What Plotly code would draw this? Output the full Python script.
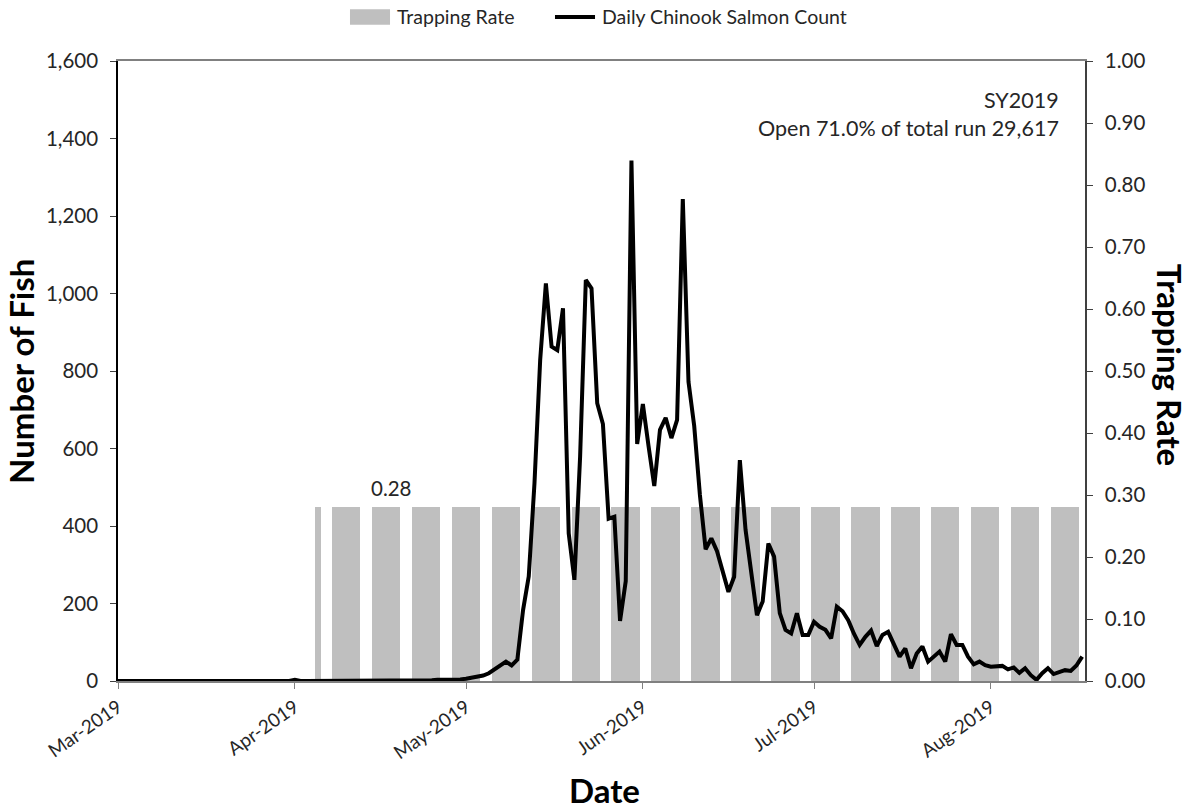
import pandas as pd
import plotly.graph_objects as go

# Daily Chinook salmon counts, SY2019 (one value per day starting 1 March 2019)
count_mar = [0, 0, 0, 0, 0, 0, 0, 0, 0, 0, 0, 0, 0, 0, 0, 0, 0, 0, 0, 0,
             0, 0, 0, 0, 0, 0, 0, 0, 0, 0, 0]
count_apr = [3, 0, 0, 0, 0, 0, 0, 0, 0, 0, 0, 0, 0, 0, 0, 0, 0, 0, 0, 0,
             0, 2, 2, 1, 2, 3, 3, 3, 4, 4]
count_may = [6, 9, 11, 14, 20, 30, 41, 50, 40, 55, 183, 270, 510, 828, 1026,
             863, 854, 962, 381, 261, 579, 1035, 1013, 717, 663, 419, 424,
             155, 258, 1343, 612]
count_jun = [715, 606, 503, 648, 679, 627, 674, 1244, 772, 658, 480, 340, 368,
             335, 286, 230, 269, 570, 390, 278, 170, 205, 355, 321, 175, 132,
             123, 175, 119, 119]
count_jul = [153, 140, 132, 110, 192, 180, 157, 122, 93, 114, 130, 90, 119,
             127, 97, 63, 84, 33, 71, 89, 50, 63, 76, 50, 121, 93, 93, 63,
             43, 50, 41]
count_aug = [37, 37, 39, 30, 35, 21, 33, 15, 3, 20, 33, 18, 24, 28, 26, 40, 63]

# Daily trapping rate (0.28 on trapping days, 0 when the trap is closed)
rate_mar = [0, 0, 0, 0, 0, 0, 0, 0, 0, 0, 0, 0, 0, 0, 0, 0, 0, 0, 0, 0,
            0, 0, 0, 0, 0, 0, 0, 0, 0, 0, 0]
rate_apr = [0, 0, 0, 0, 0.28, 0, 0,
            0.28, 0.28, 0.28, 0.28, 0.28, 0, 0,
            0.28, 0.28, 0.28, 0.28, 0.28, 0, 0,
            0.28, 0.28, 0.28, 0.28, 0.28, 0, 0,
            0.28, 0.28]
rate_may = [0.28, 0.28, 0.28, 0, 0,
            0.28, 0.28, 0.28, 0.28, 0.28, 0, 0,
            0.28, 0.28, 0.28, 0.28, 0.28, 0, 0,
            0.28, 0.28, 0.28, 0.28, 0.28, 0, 0,
            0.28, 0.28, 0.28, 0.28, 0.28]
rate_jun = [0, 0,
            0.28, 0.28, 0.28, 0.28, 0.28, 0, 0,
            0.28, 0.28, 0.28, 0.28, 0.28, 0, 0,
            0.28, 0.28, 0.28, 0.28, 0.28, 0, 0,
            0.28, 0.28, 0.28, 0.28, 0.28, 0, 0]
rate_jul = [0.28, 0.28, 0.28, 0.28, 0.28, 0, 0,
            0.28, 0.28, 0.28, 0.28, 0.28, 0, 0,
            0.28, 0.28, 0.28, 0.28, 0.28, 0, 0,
            0.28, 0.28, 0.28, 0.28, 0.28, 0, 0,
            0.28, 0.28, 0.28]
rate_aug = [0.28, 0.28, 0, 0,
            0.28, 0.28, 0.28, 0.28, 0.28, 0, 0,
            0.28, 0.28, 0.28, 0.28, 0.28, 0]

daily_count = count_mar + count_apr + count_may + count_jun + count_jul + count_aug
trap_rate = rate_mar + rate_apr + rate_may + rate_jun + rate_jul + rate_aug
dates = pd.date_range("2019-03-01", periods=len(daily_count), freq="D")

FONT = "Lato"
TXT = "#262626"
BAR_GREY = "#bfbfbf"
DAY_MS = 86400000

fig = go.Figure()

fig.add_trace(go.Bar(
    x=dates, y=trap_rate, width=DAY_MS, name="Trapping Rate",
    marker=dict(color=BAR_GREY, line=dict(width=0)),
    yaxis="y", showlegend=False,
))
fig.add_trace(go.Scatter(
    x=dates, y=daily_count, mode="lines", name="Daily Chinook Salmon Count",
    line=dict(color="black", width=4), yaxis="y2", showlegend=False,
))

fig.update_layout(
    width=1191, height=812,
    margin=dict(l=118, r=106, t=61, b=131, autoexpand=False),
    plot_bgcolor="white", paper_bgcolor="white",
    font=dict(family=FONT, size=20, color=TXT),
    bargap=0,
    showlegend=False,
    xaxis=dict(
        type="date",
        range=["2019-03-01", "2019-08-17 12:00"],
        tick0="2019-03-01", dtick="M1", tickformat="%b-%Y",
        tickangle=-35, ticks="outside", ticklen=6, tickcolor="#808080",
        showline=True, linecolor="#808080", linewidth=1.5, mirror=True,
        showgrid=False, zeroline=False,
        tickfont=dict(size=19, color=TXT),
    ),
    yaxis=dict(
        side="right", range=[0, 1], dtick=0.1, tickformat=".2f",
        ticks="outside", ticklen=6, tickcolor="#404040",
        ticklabelstandoff=8,
        showline=True, linecolor="#404040", linewidth=1.5,
        showgrid=False, zeroline=False,
        tickfont=dict(size=20.5, color=TXT),
    ),
    yaxis2=dict(
        side="left", overlaying="y", range=[0, 1600], dtick=200,
        tickformat=",d", ticks="outside", ticklen=6, tickcolor="#404040",
        ticklabelstandoff=8,
        showline=True, linecolor="black", linewidth=1.5,
        showgrid=False, zeroline=False,
        tickfont=dict(size=20.5, color=TXT),
    ),
)

# Legend drawn above the plot: grey swatch for the bars, black stroke for the line
legend_y = 1.071
shapes = [
    dict(type="rect", xref="paper", yref="paper",
         x0=0.2399, x1=0.2813, y0=1.0585, y1=1.0835,
         fillcolor=BAR_GREY, line=dict(width=0)),
    dict(type="line", xref="paper", yref="paper",
         x0=0.4519, x1=0.4933, y0=legend_y, y1=legend_y,
         line=dict(color="black", width=4)),
]

annotations = [
    dict(text="Trapping Rate", xref="paper", yref="paper", x=0.2865,
         y=legend_y, xanchor="left", yanchor="middle", showarrow=False,
         font=dict(size=19.5, color=TXT)),
    dict(text="Daily Chinook Salmon Count", xref="paper", yref="paper",
         x=0.4984, y=legend_y, xanchor="left", yanchor="middle",
         showarrow=False, font=dict(size=19.5, color=TXT)),
    dict(text="SY2019", xref="paper", yref="paper", x=0.975, y=0.937,
         xanchor="right", yanchor="middle", showarrow=False,
         font=dict(size=21.5, color=TXT)),
    dict(text="Open 71.0% of total run 29,617", xref="paper", yref="paper",
         x=0.975, y=0.892, xanchor="right", yanchor="middle", showarrow=False,
         font=dict(size=21.5, color=TXT)),
    dict(text="0.28", xref="x", yref="y", x="2019-04-18", y=0.311,
         xanchor="center", yanchor="middle", showarrow=False,
         font=dict(size=20.5, color=TXT)),
    dict(text="<b>Number of Fish</b>", xref="paper", yref="paper",
         x=-0.101, y=0.499, xanchor="center", yanchor="middle",
         textangle=-90, showarrow=False, font=dict(size=33, color="black")),
    dict(text="<b>Trapping Rate</b>", xref="paper", yref="paper",
         x=1.088, y=0.51, xanchor="center", yanchor="middle",
         textangle=90, showarrow=False, font=dict(size=33, color="black")),
    dict(text="<b>Date</b>", xref="paper", yref="paper",
         x=0.503, y=-0.176, xanchor="center", yanchor="middle",
         showarrow=False, font=dict(size=33, color="black")),
]
fig.update_layout(shapes=shapes, annotations=annotations)

fig.write_html("out.html")
